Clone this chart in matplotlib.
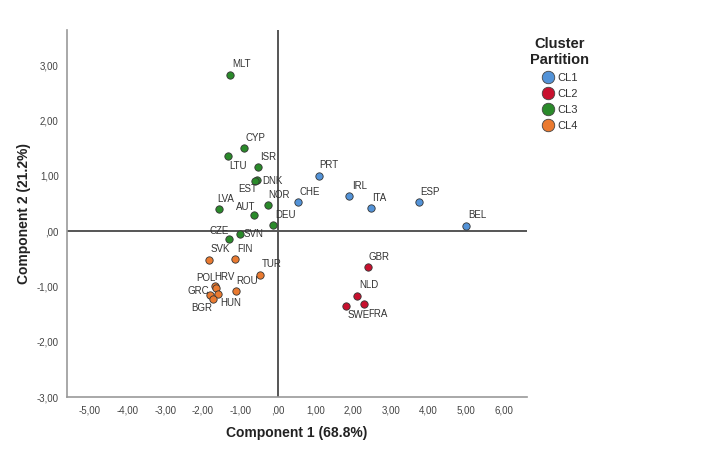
import matplotlib
matplotlib.use("Agg")
import matplotlib.pyplot as plt
from matplotlib.lines import Line2D

plt.rcParams['font.family'] = ['Liberation Sans', 'DejaVu Sans']

# scores per country, grouped by cluster
cl1_names = ["PRT", "CHE", "IRL", "ITA", "ESP", "BEL"]
cl1_x = [1.08, 0.54, 1.90, 2.46, 3.76, 5.01]
cl1_y = [1.00, 0.53, 0.64, 0.41, 0.53, 0.10]

cl2_names = ["GBR", "NLD", "FRA", "SWE"]
cl2_x = [2.39, 2.10, 2.28, 1.80]
cl2_y = [-0.65, -1.18, -1.31, -1.36]

cl3_names = ["MLT", "CYP", "LTU", "ISR", "DNK", "EST", "NOR", "AUT",
             "LVA", "DEU", "CZE", "SVN"]
cl3_x = [-1.28, -0.90, -1.34, -0.52, -0.55, -0.60, -0.27, -0.64,
         -1.57, -0.12, -1.30, -1.01]
cl3_y = [2.82, 1.51, 1.36, 1.16, 0.93, 0.91, 0.48, 0.29,
         0.40, 0.11, -0.15, -0.05]

cl4_names = ["SVK", "FIN", "TUR", "ROU", "POL", "HRV", "HUN", "GRC", "BGR"]
cl4_x = [-1.83, -1.15, -0.48, -1.12, -1.68, -1.64, -1.59, -1.81, -1.74]
cl4_y = [-0.53, -0.51, -0.80, -1.09, -1.00, -1.03, -1.13, -1.16, -1.22]

clusters = ["CL1", "CL2", "CL3", "CL4"]
colors = ["#5393d8", "#c8102e", "#2a8a2a", "#ea7a30"]

# label offsets in pixels (left edge, vertical centre) relative to the point
label_off = {
    "MLT": (2, 11), "CYP": (1, 10), "LTU": (2, -10), "ISR": (2, 10),
    "DNK": (5, -1), "EST": (-17, -8), "NOR": (0, 10), "AUT": (-18, 8),
    "LVA": (-2, 10), "DEU": (2, 10), "CZE": (-20, 8), "SVN": (4, 0),
    "SVK": (1, 11), "FIN": (3, 10), "TUR": (2, 11), "ROU": (0, 10),
    "POL": (-19, 8), "HRV": (-2, 11), "GRC": (-22, 4), "BGR": (-21, -9),
    "HUN": (2, -9), "PRT": (1, 11), "CHE": (1, 10), "IRL": (3, 10),
    "ITA": (2, 10), "ESP": (1, 10), "BEL": (2, 11), "GBR": (1, 10),
    "NLD": (2, 11), "FRA": (5, -10), "SWE": (2, -9),
}

fig = plt.figure(figsize=(7.11, 4.59), dpi=100)
ax = fig.add_axes([0.0942, 0.135, 0.647, 0.80])

ax.axhline(0, color="#555555", lw=1.4, zorder=1)
ax.axvline(0, color="#555555", lw=1.4, zorder=1)

groups = [(cl1_names, cl1_x, cl1_y), (cl2_names, cl2_x, cl2_y),
          (cl3_names, cl3_x, cl3_y), (cl4_names, cl4_x, cl4_y)]
for (names, xs, ys), c in zip(groups, colors):
    ax.scatter(xs, ys, s=28, color=c, edgecolor="#333333", linewidth=0.6, zorder=3)
    for n, x, y in zip(names, xs, ys):
        dx, dy = label_off.get(n, (0, 10))
        ax.annotate(n, (x, y), xytext=(dx, dy), textcoords="offset pixels",
                    ha="left", va="center", fontsize=7, color="#333333", zorder=4)

ax.set_xlim(-5.61, 6.62)
ax.set_ylim(-3.0, 3.64)
ax.set_xticks(range(-5, 7))
ax.set_yticks(range(-3, 4))


def fmt(v):
    s = f"{v:.2f}".replace(".", ",")
    if s.startswith("0,"):
        s = s[1:]
    return s


ax.set_xticklabels([fmt(v) for v in range(-5, 7)])
ax.set_yticklabels([fmt(v) for v in range(-3, 4)])
ax.tick_params(length=0, labelsize=7, labelcolor="#444444", pad=6)
for side in ["top", "right"]:
    ax.spines[side].set_visible(False)
for side in ["left", "bottom"]:
    ax.spines[side].set_color("#999999")
    ax.spines[side].set_linewidth(1.2)

ax.set_xlabel("Component 1 (68.8%)", fontsize=10, fontweight="bold", color="#222222", labelpad=8)
ax.set_ylabel("Component 2 (21.2%)", fontsize=10, fontweight="bold", color="#222222", labelpad=4)

handles = [Line2D([], [], marker="o", linestyle="", markersize=9, markerfacecolor=c,
                  markeredgecolor="#444444", markeredgewidth=0.6) for c in colors]
leg = fig.legend(handles, clusters, title="Cluster\nPartition", loc="upper center",
                 bbox_to_anchor=(0.787, 0.93), frameon=False, fontsize=8,
                 handletextpad=0.2, labelspacing=0.55, borderaxespad=0,
                 alignment="center", handlelength=1.2)
leg.get_title().set_fontweight("bold")
leg.get_title().set_fontsize(10.5)
leg.get_title().set_color("#222222")
leg.get_title().set_multialignment("center")
for t in leg.get_texts():
    t.set_color("#333333")

fig.savefig("out.png", dpi=100)
